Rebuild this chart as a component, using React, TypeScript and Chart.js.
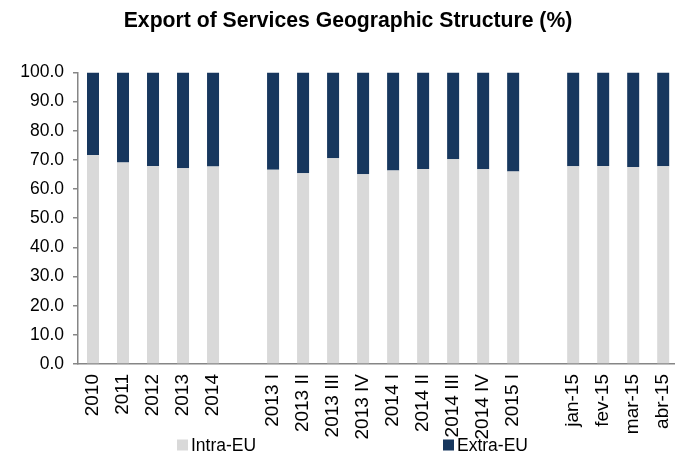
import React, { useEffect, useRef } from "react";
import { Chart, registerables } from "chart.js";

Chart.register(...registerables);

const categories = [
  "2010", "2011", "2012", "2013", "2014", "",
  "2013 I", "2013 II", "2013 III", "2013 IV", "2014 I", "2014 II", "2014 III", "2014 IV", "2015 I", "",
  "jan-15", "fev-15", "mar-15", "abr-15",
];

const intraEU = [
  71.7, 69.1, 67.9, 67.1, 67.7, null,
  66.6, 65.4, 70.6, 65.1, 66.4, 66.9, 70.2, 66.8, 66.0, null,
  67.8, 67.9, 67.6, 67.8,
];

const extraEU = [
  28.3, 30.9, 32.1, 32.9, 32.3, null,
  33.4, 34.6, 29.4, 34.9, 33.6, 33.1, 29.8, 33.2, 34.0, null,
  32.2, 32.1, 32.4, 32.2,
];

const yTicks = [0, 10, 20, 30, 40, 50, 60, 70, 80, 90, 100];

const seriesNames = ["Intra-EU", "Extra-EU"];
const seriesColors = ["#D9D9D9", "#17375E"];

const FONT = "'Liberation Sans', Arial, sans-serif";

const legendPlugin = {
  id: "customLegend",
  afterDraw(chart: any) {
    const ctx = chart.ctx;
    ctx.save();
    ctx.font = `17.5px ${FONT}`;
    ctx.textBaseline = "middle";
    ctx.textAlign = "left";
    const y = 445;
    const xs = [177, 443];
    seriesNames.forEach((name, i) => {
      ctx.fillStyle = seriesColors[i];
      ctx.fillRect(xs[i], y - 5.5, 11, 11);
      ctx.fillStyle = "#000";
      ctx.fillText(name, xs[i] + 14, y + 1);
    });
    ctx.restore();
  },
};

export default function App() {
  const ref = useRef<HTMLCanvasElement>(null);
  useEffect(() => {
    if (!ref.current) return;
    const chart = new Chart(ref.current, {
      type: "bar",
      data: {
        labels: categories,
        datasets: [
          { label: seriesNames[0], data: intraEU, backgroundColor: seriesColors[0], borderWidth: 0 },
          { label: seriesNames[1], data: extraEU, backgroundColor: seriesColors[1], borderWidth: 0 },
        ],
      },
      options: {
        responsive: false,
        animation: false,
        layout: { padding: { left: 0, right: 0, top: 0, bottom: 0 } },
        datasets: { bar: { categoryPercentage: 1, barPercentage: 0.4 } },
        plugins: {
          legend: { display: false },
          tooltip: { enabled: false },
          title: {
            display: true,
            text: "Export of Services Geographic Structure (%)",
            color: "#000",
            font: { family: FONT, size: 21.2, weight: "bold" },
            padding: { top: 8, bottom: 39 },
          },
        },
        scales: {
          x: {
            stacked: true,
            grid: { display: false, drawTicks: false },
            border: { display: true, color: "#868686", width: 1.5 },
            ticks: {
              color: "#000",
              font: { family: FONT, size: 19 },
              maxRotation: 90,
              minRotation: 90,
              autoSkip: false,
              padding: 10,
            },
            afterFit(scale: any) {
              scale.height = 95;
            },
          },
          y: {
            stacked: true,
            min: 0,
            max: 100,
            afterBuildTicks(scale: any) {
              scale.ticks = yTicks.map((v) => ({ value: v }));
            },
            grid: { drawOnChartArea: false, drawTicks: true, tickLength: 5, color: "#868686", lineWidth: 1.5 },
            border: { display: true, color: "#868686", width: 1.5 },
            ticks: {
              color: "#000",
              font: { family: FONT, size: 17.5 },
              padding: 9,
              callback: (v: any) => Number(v).toFixed(1),
            },
            afterFit(scale: any) {
              scale.width = 78;
            },
          },
        },
      },
      plugins: [legendPlugin],
    } as any);
    return () => chart.destroy();
  }, []);
  return (
    <div style={{ position: "absolute", left: 0, top: 0, width: 675, height: 459, overflow: "hidden", background: "#fff" }}>
      <canvas ref={ref} width={696} height={459} style={{ display: "block" }} />
    </div>
  );
}
